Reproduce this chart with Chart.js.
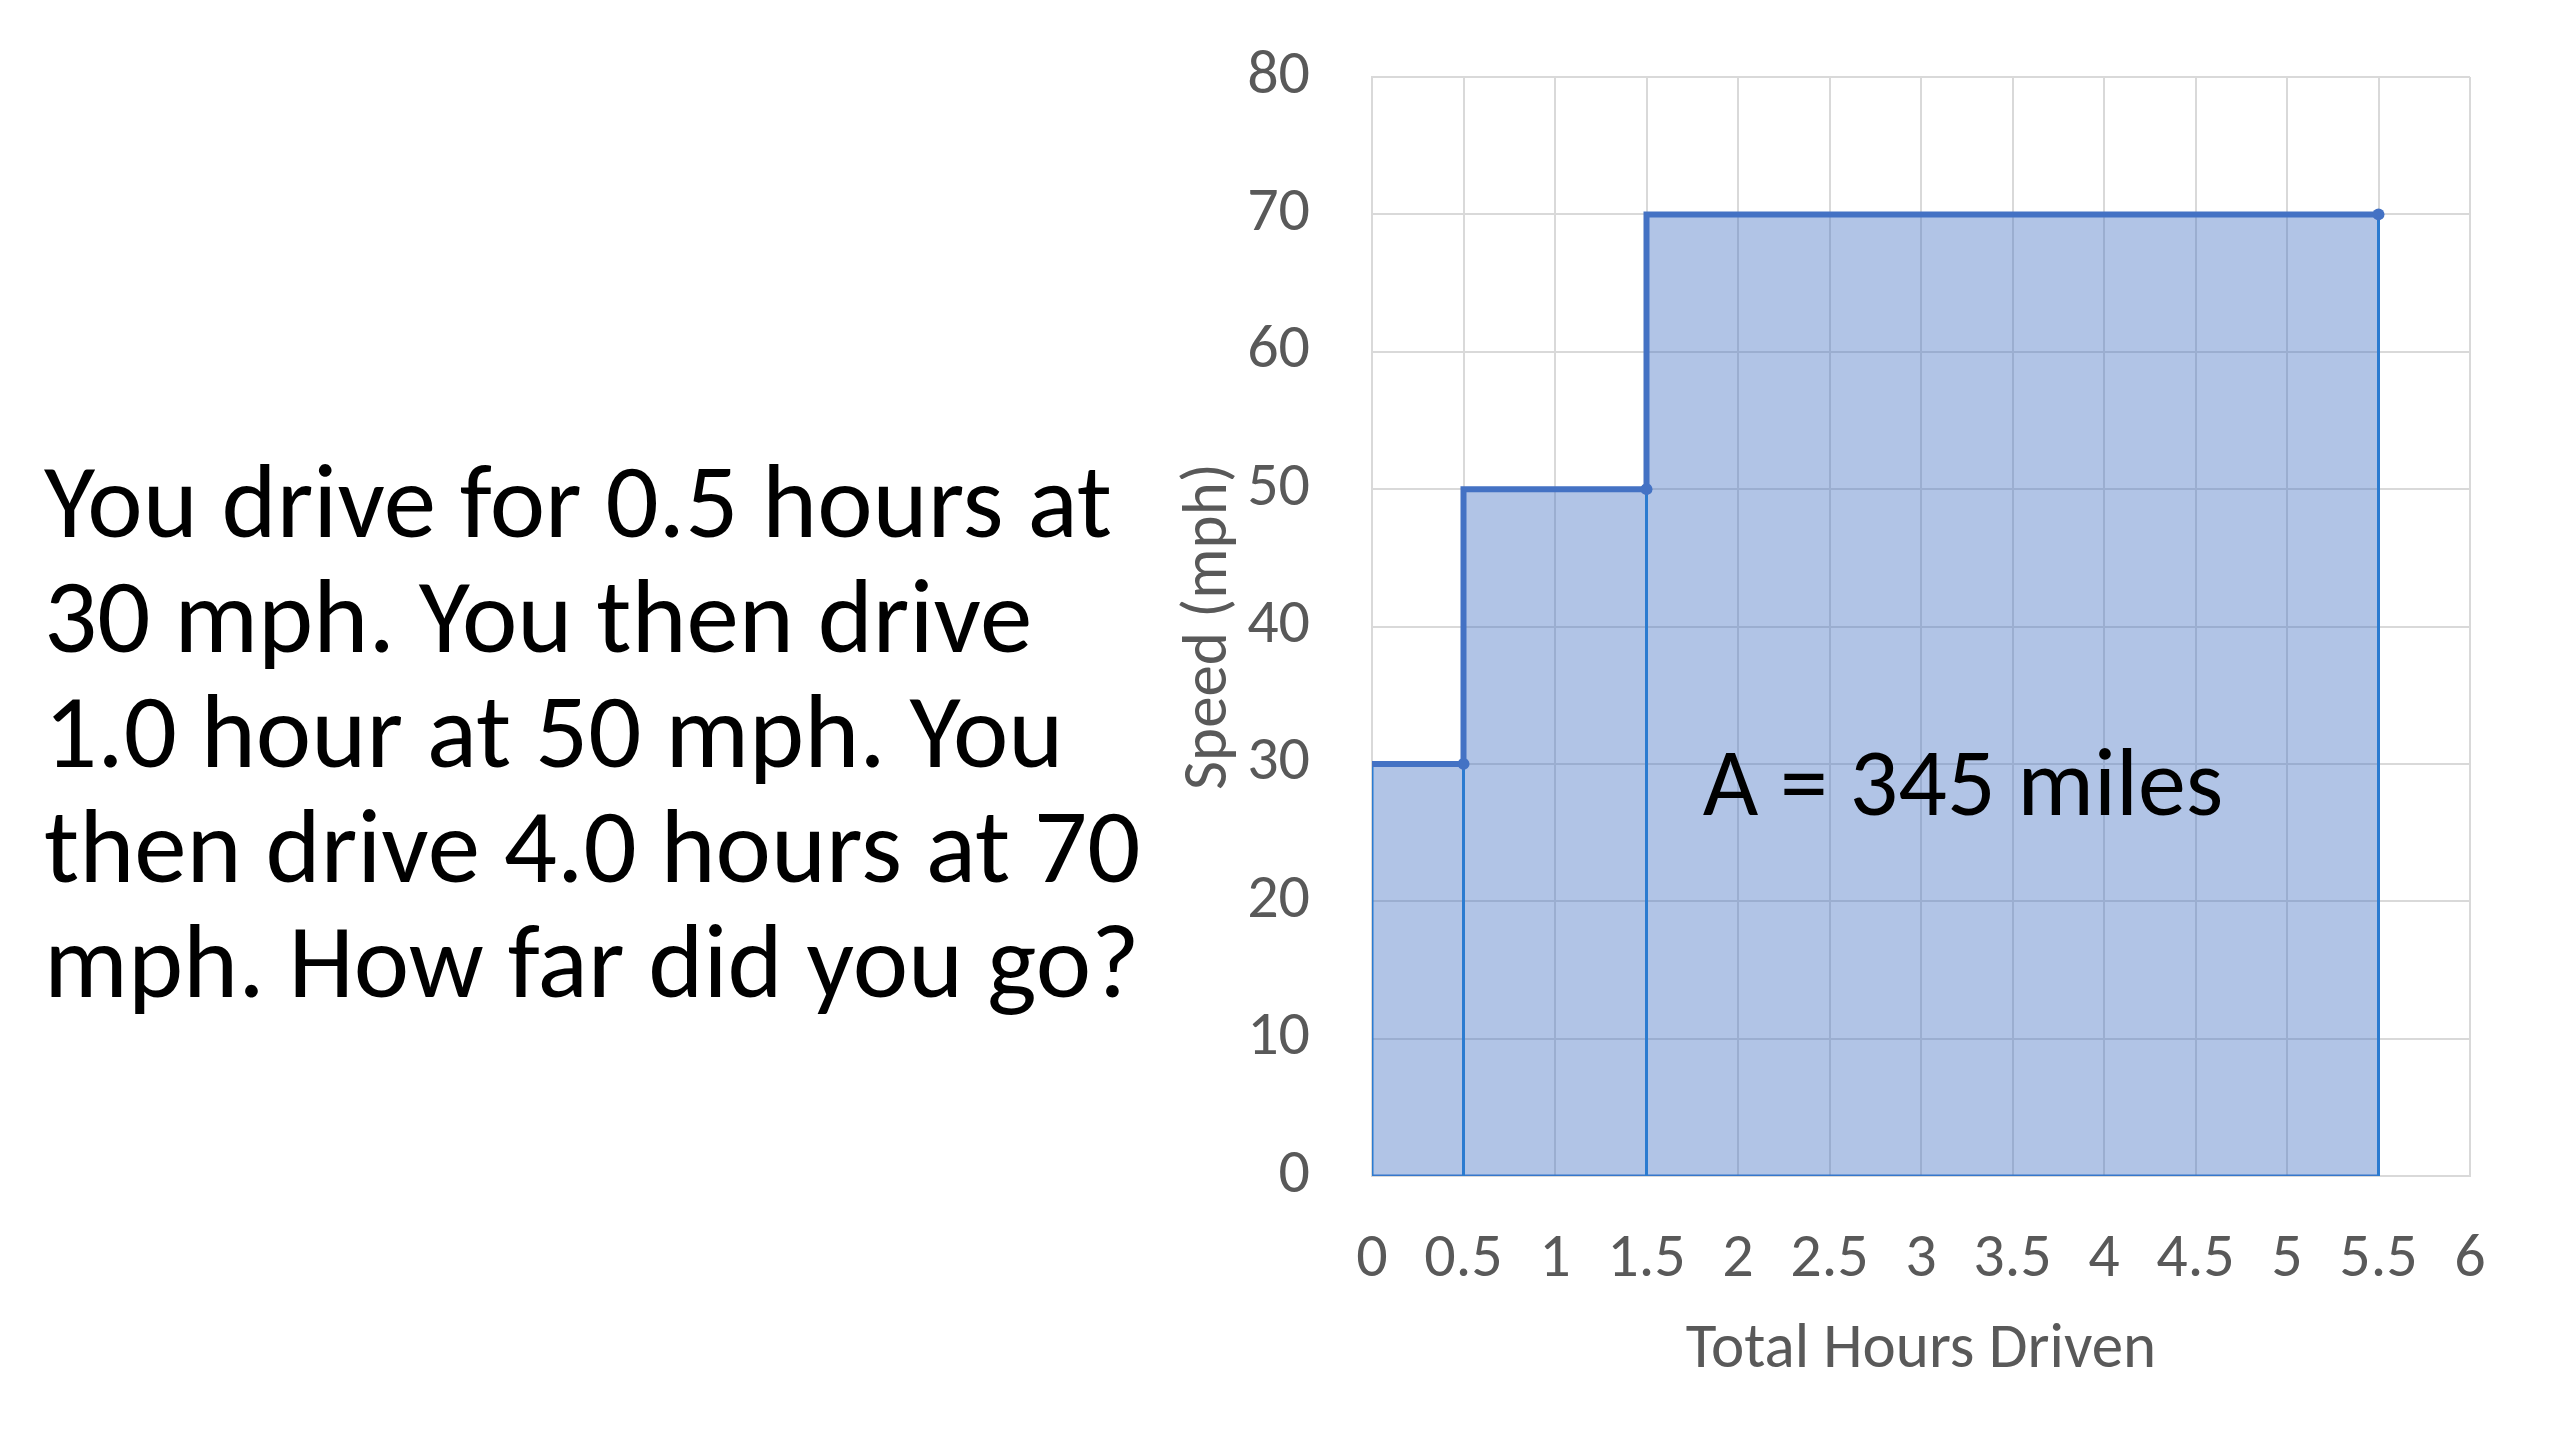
<!DOCTYPE html>
<html>
<head>
<meta charset="utf-8">
<script src="https://cdn.jsdelivr.net/npm/chart.js@4.4.1/dist/chart.umd.min.js"></script>
<style>
  html, body { margin: 0; padding: 0; background: #fff; }
  #wrap { position: relative; width: 2560px; height: 1440px; }
  #question {
    position: absolute; left: 44px; top: 444px;
    font-family: Carlito, Lato, sans-serif; font-size: 105px; line-height: 115px;
    color: #000; white-space: nowrap;
  }
  #chartBox { position: absolute; left: 0; top: 0; width: 2560px; height: 1440px; }
</style>
</head>
<body>
<div id="wrap">
  <div id="chartBox"><canvas id="speed-chart"></canvas></div>
  <div id="question">You drive for 0.5 hours at<br>30 mph. You then drive<br>1.0 hour at 50 mph. You<br>then drive 4.0 hours at 70<br>mph. How far did you go?</div>
</div>
<script>
// segment edges on the time axis (hours) and the speed held in each segment
const hourEdges = [0, 0.5, 1.5, 5.5];
const speeds = [30, 50, 70];
const areaText = 'A = 345 miles';
const areaTextAt = { x: 3.23, y: 28 };

const FONT = 'Carlito, Lato, sans-serif';
const lineBlue = '#4472C4';
const boxBlue = '#2B7BD0';
const boxFill = 'rgba(68, 114, 196, 0.42)';

// step line across the top of the segments
const stepPoints = [];
speeds.forEach((s, i) => {
  stepPoints.push({ x: hourEdges[i], y: s });
  stepPoints.push({ x: hourEdges[i + 1], y: s });
});

// one filled box per segment (left, top, right sides)
const boxSets = speeds.map((s, i) => ({
  data: [
    { x: hourEdges[i], y: 0 },
    { x: hourEdges[i], y: s },
    { x: hourEdges[i + 1], y: s },
    { x: hourEdges[i + 1], y: 0 },
  ],
  borderColor: boxBlue,
  borderWidth: 3,
  backgroundColor: boxFill,
  fill: 'origin',
  pointRadius: 0,
  tension: 0,
}));

// bottom edge of the boxes
const baseSet = {
  data: [{ x: hourEdges[0], y: 0 }, { x: hourEdges[hourEdges.length - 1], y: 0 }],
  borderColor: boxBlue,
  borderWidth: 3,
  fill: false,
  pointRadius: 0,
};

const stepSet = {
  data: stepPoints,
  borderColor: lineBlue,
  borderWidth: 6,
  fill: false,
  pointRadius: (ctx) => (ctx.dataIndex % 2 === 1 ? 6 : 0),
  pointBackgroundColor: lineBlue,
  pointBorderWidth: 0,
  borderJoinStyle: 'miter',
};

// text inside the shaded area
const areaLabel = {
  id: 'areaLabel',
  afterDatasetsDraw(chart) {
    const { ctx, scales } = chart;
    ctx.save();
    ctx.font = '96px ' + FONT;
    ctx.fillStyle = '#000';
    ctx.textAlign = 'center';
    ctx.textBaseline = 'middle';
    ctx.fillText(areaText, scales.x.getPixelForValue(areaTextAt.x), scales.y.getPixelForValue(areaTextAt.y));
    ctx.restore();
  },
};

const speedChart = new Chart(document.getElementById('speed-chart'), {
  type: 'line',
  data: { datasets: [stepSet, ...boxSets, baseSet] },
  plugins: [areaLabel],
  options: {
    responsive: true,
    maintainAspectRatio: false,
    animation: false,
    layout: { padding: { left: 1172, top: 77, right: 90, bottom: 51 } },
    plugins: { legend: { display: false }, tooltip: { enabled: false } },
    scales: {
      x: {
        type: 'linear',
        min: 0,
        max: 6,
        afterFit: (s) => { s.height = 213; },
        ticks: {
          stepSize: 0.5,
          padding: 47,
          color: '#595959',
          font: { family: FONT, size: 62 },
          callback: (v) => String(v),
        },
        grid: { color: '#D9D9D9', lineWidth: 2, drawTicks: false },
        border: { color: '#D9D9D9', width: 2 },
        title: {
          display: true,
          text: 'Total Hours Driven',
          color: '#595959',
          font: { family: FONT, size: 63 },
          padding: 0,
        },
      },
      y: {
        min: 0,
        max: 80,
        afterFit: (s) => { s.width = 200; },
        ticks: {
          stepSize: 10,
          padding: 4,
          color: '#595959',
          font: { family: FONT, size: 62 },
        },
        // invisible tick marks keep the labels away from the plot
        grid: { color: '#D9D9D9', lineWidth: 2, drawTicks: true, tickLength: 58, tickColor: 'rgba(0,0,0,0)' },
        border: { color: '#D9D9D9', width: 2 },
        title: {
          display: true,
          text: 'Speed (mph)',
          color: '#595959',
          font: { family: FONT, size: 63 },
          padding: 0,
        },
      },
    },
  },
});
</script>
</body>
</html>
